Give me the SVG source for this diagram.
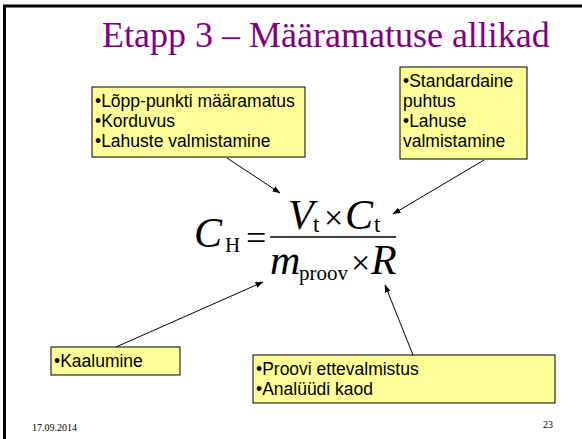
<svg xmlns="http://www.w3.org/2000/svg" width="582" height="439" viewBox="0 0 582 439">
<style>
.box{fill:#FFFF99;stroke:#000;stroke-width:1}
.bt{font-family:"Liberation Sans",Arial,sans-serif;font-size:17.5px;fill:#000}
.conn{stroke:#000;stroke-width:1;fill:none;marker-end:url(#ah)}
.serif{font-family:"Liberation Serif","Times New Roman",serif;fill:#000}
.title{font-size:36px;fill:#800080}
.foot{font-size:10px}
.it{font-style:italic;font-size:42px}
.sub{font-size:23px}
.subh{font-size:21px}
.sub2{font-size:21px}
.op{font-size:34px}
.eq{font-size:36px}
</style>
<defs>
<marker id="ah" markerWidth="8" markerHeight="6" refX="7.5" refY="3" orient="auto" markerUnits="userSpaceOnUse">
<path d="M0,0 L8,3 L0,6 Z" fill="#000"/>
</marker>
</defs>
<rect width="582" height="439" fill="#fff"/>
<path d="M4.5,439 V6 H582" fill="none" stroke="#000" stroke-width="3"/>
<text class="serif title" x="102" y="47">Etapp 3 – Määramatuse allikad</text>

<g id="connectors">
<line class="conn" x1="227" y1="158" x2="280" y2="193"/>
<line class="conn" x1="484" y1="160" x2="393" y2="214"/>
<line class="conn" x1="116" y1="347" x2="263" y2="282"/>
<line class="conn" x1="413" y1="355" x2="385" y2="285"/>
</g>

<g id="box1">
<rect class="box" x="92" y="87" width="213" height="70"/>
<text class="bt" x="95" y="107">•Lõpp-punkti määramatus</text>
<text class="bt" x="95" y="127">•Korduvus</text>
<text class="bt" x="95" y="147">•Lahuste valmistamine</text>
</g>
<g id="box2">
<rect class="box" x="400" y="67" width="127" height="92"/>
<text class="bt" x="403" y="87">•Standardaine</text>
<text class="bt" x="403" y="107">puhtus</text>
<text class="bt" x="403" y="127">•Lahuse</text>
<text class="bt" x="403" y="147">valmistamine</text>
</g>
<g id="box3">
<rect class="box" x="51" y="347" width="129" height="28"/>
<text class="bt" x="54" y="367">•Kaalumine</text>
</g>
<g id="box4">
<rect class="box" x="253" y="355" width="302" height="48"/>
<text class="bt" x="256" y="375">•Proovi ettevalmistus</text>
<text class="bt" x="256" y="395">•Analüüdi kaod</text>
</g>

<g id="formula" class="serif">
<text class="it" x="194" y="247">C</text>
<text class="subh" x="225" y="252">H</text>
<text class="eq" x="246" y="250">=</text>
<line x1="270" y1="237" x2="396" y2="237" stroke="#000" stroke-width="1.5"/>
<text class="it" x="288" y="229">V</text>
<text class="sub" x="313" y="232">t</text>
<text class="op" x="324" y="229">×</text>
<text class="it" x="345" y="229">C</text>
<text class="sub" x="374" y="232">t</text>
<text class="it" x="270" y="274">m</text>
<text class="sub2" x="299" y="280">proov</text>
<text class="op" x="351" y="274">×</text>
<text class="it" x="371" y="274">R</text>
</g>

<text class="serif foot" x="32" y="431">17.09.2014</text>
<text class="serif foot" x="553" y="428" text-anchor="end">23</text>
</svg>
